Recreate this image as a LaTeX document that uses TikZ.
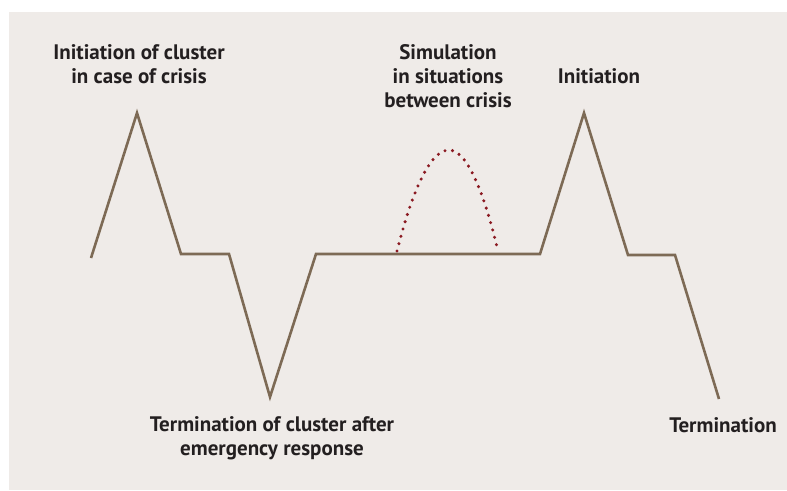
\documentclass[tikz,border=0pt]{standalone}
\usepackage{fontspec}
\setmainfont{PT Sans}
\definecolor{bgbeige}{HTML}{EFEBE8}
\definecolor{linebrown}{HTML}{7D6A55}
\definecolor{dotred}{HTML}{8B1A22}
\definecolor{textdark}{HTML}{231F20}
\tikzset{
  phase/.style={draw=linebrown, line width=2.6pt, line join=miter},
  label/.style={text=textdark, font=\fontsize{21}{24}\selectfont\bfseries, align=center, inner sep=0pt, anchor=base}
}
\begin{document}
\begin{tikzpicture}[x=1pt,y=-1pt]
  \useasboundingbox (0,0) rectangle (787,490);
  \fill[bgbeige] (9,12) rectangle (787,490);
  % corners of the cluster life cycle
  \coordinate (p0) at (91,258);
  \coordinate (p1) at (137,113);
  \coordinate (p2) at (181,254);
  \coordinate (p3) at (229,254);
  \coordinate (p4) at (270,397);
  \coordinate (p5) at (316,254);
  \coordinate (p6) at (540,254);
  \coordinate (p7) at (584,113);
  \coordinate (p8) at (628,255);
  \coordinate (p9) at (675,255);
  \coordinate (p10) at (719,399);
  \draw[phase] (p0) -- (p1) -- (p2) -- (p3) -- (p4) -- (p5) -- (p6) -- (p7) -- (p8) -- (p9) -- (p10);
  % simulation arc
  \coordinate (s0) at (397,251);
  \coordinate (s1) at (449,150);
  \coordinate (s2) at (498,251);
  \draw[dotred, line width=3.4pt, line cap=round, dash pattern=on 0pt off 7.6pt] (s0) parabola bend (s1) (s2);
  % labels (anchored on the last line)
  \node[label] (initcrisis) at (139,83) {Initiation of cluster\\in case of crisis};
  \node[label] (simulation) at (448,107) {Simulation\\in situations\\between crisis};
  \node[label] (init) at (599,83) {Initiation};
  \node[label] (termcrisis) at (272,455) {Termination of cluster after\\emergency response};
  \node[label] (term) at (723,432) {Termination};
\end{tikzpicture}
\end{document}
